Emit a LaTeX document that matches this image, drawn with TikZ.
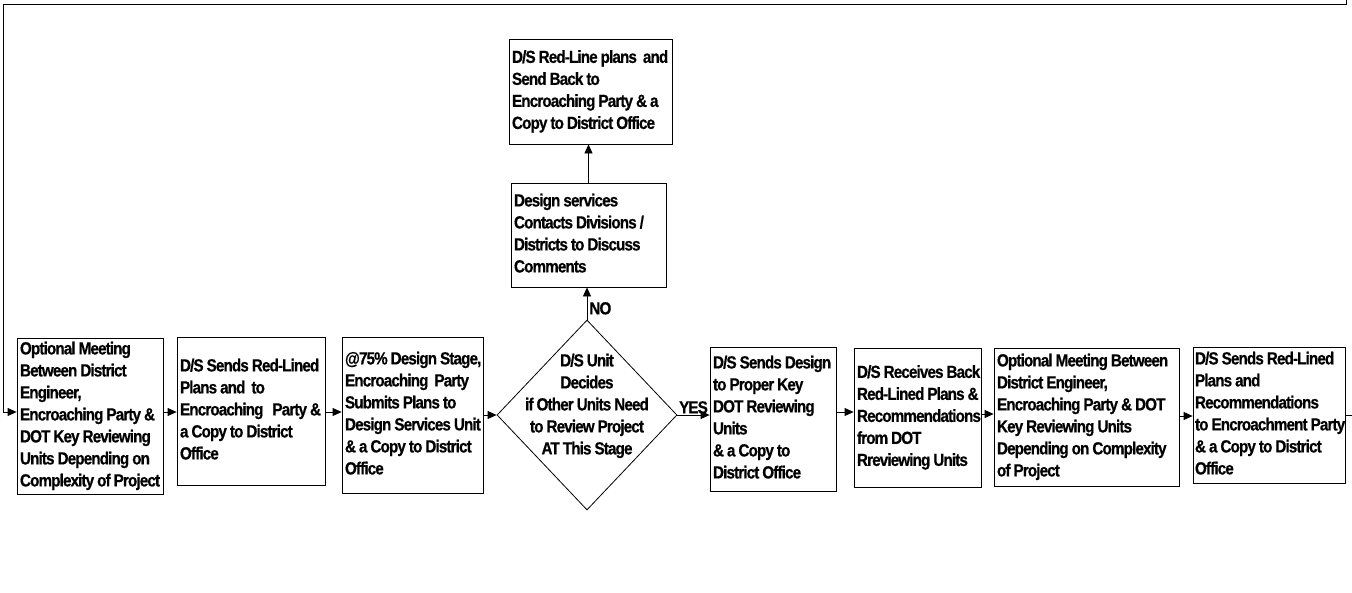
\documentclass[tikz,border=0pt]{standalone}
\usepackage{fontspec}
\setmainfont{Liberation Sans}[FakeStretch=0.87, LetterSpace=-5, FakeBold=0.6]
\usetikzlibrary{arrows.meta,shapes.geometric}
\newcommand\tl[1]{{\spaceskip=3pt plus 1pt\relax\begin{tabular}{@{}l@{}}#1\end{tabular}}}
\newcommand\tc[1]{{\spaceskip=3pt plus 1pt\relax\begin{tabular}{@{}c@{}}#1\end{tabular}}}
\begin{document}
\begin{tikzpicture}[x=1pt,y=-1pt,
  every node/.style={font=\fontsize{17.5}{22}\selectfont\bfseries},
  pbox/.style={draw, line width=0.8pt, inner xsep=3pt, inner ysep=0pt, align=left},
  dbox/.style={draw, shape=diamond, line width=0.8pt, inner sep=0pt, minimum width=180pt, minimum height=190pt},
  arr/.style={line width=0.8pt, -{Triangle[length=9pt,width=8pt]}},
  ln/.style={line width=0.8pt}]
\useasboundingbox (0,0) rectangle (1352,592);

\node[pbox, text width=140pt, minimum height=156pt] (b1) at (90,416) {\tl{Optional Meeting\\Between District\\Engineer,\\Encroaching Party \&\\DOT Key Reviewing\\Units Depending on\\Complexity of Project}};
\node[pbox, text width=142pt, minimum height=148pt] (b2) at (251,411) {\tl{D/S Sends Red-Lined\\Plans and\ \ to\\Encroaching\ \ \ Party \&\\a Copy to District\\Office}};
\node[pbox, text width=135pt, minimum height=156pt] (b3) at (412.5,415) {\tl{@75\% Design Stage,\\Encroaching\ \ Party\\Submits Plans to\\Design Services Unit\\\& a Copy to District\\Office}};
\node[dbox, label={[yshift=9pt]center:{\tc{D/S Unit\\Decides\\if Other Units Need\\to Review Project\\AT This Stage}}}] (d) at (587,415) {};
\node[pbox, text width=120pt, minimum height=144pt] (b5) at (773,419) {\tl{D/S Sends Design\\to Proper Key\\DOT Reviewing\\Units\\\& a Copy to\\District Office}};
\node[pbox, text width=121pt, minimum height=139pt] (b6) at (917.5,417.5) {\tl{D/S Receives Back\\Red-Lined Plans \&\\Recommendations\\from DOT\\Rreviewing Units}};
\node[pbox, text width=179pt, minimum height=138pt] (b7) at (1086.5,417) {\tl{Optional Meeting Between\\District Engineer,\\Encroaching Party \& DOT\\Key Reviewing Units\\Depending on Complexity\\of Project}};
\node[pbox, inner xsep=2pt, text width=148pt, minimum height=136pt] (b8) at (1269,415) {\tl{D/S Sends Red-Lined\\Plans and\\Recommendations\\to Encroachment Party\\\& a Copy to District\\Office}};
\node[pbox, text width=149pt, minimum height=104pt] (b9) at (588.5,235) {\tl{Design services\\Contacts Divisions /\\Districts to Discuss\\Comments}};
\node[pbox, text width=157pt, minimum height=105pt] (b10) at (590.5,91.5) {\tl{D/S Red-Line plans\ \ and\\Send Back to\\Encroaching Party \& a\\Copy to District Office}};

\coordinate (fr) at (1346,0);
\coordinate (tr) at (1346,4);
\coordinate (tlc) at (3,4);
\coordinate (fl) at (3,412);
\coordinate (ex) at (1352,415);

\draw[arr] (fr) -- (tr) -- (tlc) -- (fl) -- (fl -| b1.west);
\draw[arr] (b1.east |- 0,412) -- (b2.west |- 0,412);
\draw[arr] (b2.east |- 0,412) -- (b3.west |- 0,412);
\draw[arr] (b3.east |- d.west) -- (d.west);
\draw[arr] (d.east) -- (d.east -| b5.west) node[midway, above, inner sep=1pt] {YES};
\draw[arr] (d.north) -- (d.north |- b9.south) node[pos=0.35, right, inner sep=2pt] {NO};
\draw[arr] (b9.north) -- (b9.north |- b10.south);
\draw[arr] (b5.east |- 0,412) -- (b6.west |- 0,412);
\draw[arr] (b6.east |- 0,414) -- (b7.west |- 0,414);
\draw[arr] (b7.east |- 0,416) -- (b8.west |- 0,416);
\draw[ln] (b8.east |- ex) -- (ex);
\end{tikzpicture}
\end{document}
